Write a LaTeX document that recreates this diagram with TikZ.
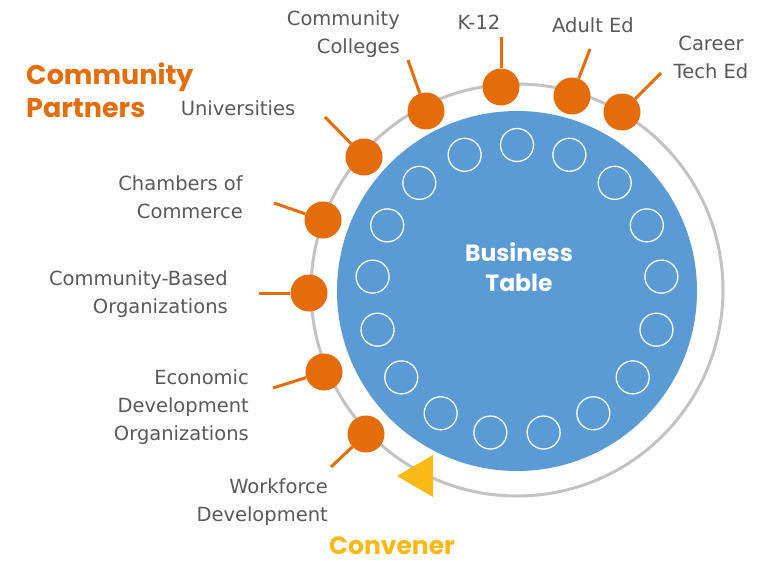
\documentclass[tikz,border=0pt]{standalone}
\usepackage{fontspec}
\setmainfont{DejaVu Sans}
\newfontfamily\headfont{Poppins}
\usepackage{tikz}

\definecolor{tableblue}{HTML}{5B9BD5}
\definecolor{partnerorange}{HTML}{E46C0A}
\definecolor{convenergold}{HTML}{FBB917}
\definecolor{ringgray}{HTML}{C3C3C3}
\definecolor{labelgray}{HTML}{595959}

\begin{document}
\begin{tikzpicture}[x=1pt, y=-1pt,
    partner/.style={circle, fill=partnerorange, inner sep=0pt, minimum size=37pt},
    seat/.style={circle, draw=white, line width=1.3pt, inner sep=0pt, minimum size=33pt},
    spoke/.style={partnerorange, line width=3pt},
    lbl/.style={text=labelgray, font=\fontsize{19.5}{28}\selectfont, inner sep=0pt},
    head/.style={font=\headfont\bfseries\fontsize{27}{33}\selectfont, inner sep=0pt}]
    \useasboundingbox (0,0) rectangle (779,562);

    % The ring round the table
    \draw[ringgray, line width=3pt] (517,290) circle (206);

    % The Business Table and its seats
    \node (table) at (517,291) [circle, fill=tableblue, minimum size=360pt, inner sep=0pt] {};
    \node (tabletext) at (519,267) [text=white, align=center, inner sep=0pt,
        font=\headfont\bfseries\fontsize{23.5}{30}\selectfont] {Business\\Table};
    \foreach \k in {0,...,16}
        \node (seat\k) at ({517+145*cos(90+\k*360/17)}, {290-145*sin(90+\k*360/17)}) [seat] {};

    % Community partners on the ring
    \node (k12) at (501,87) [partner] {};
    \node (adult) at (572,96) [partner] {};
    \node (career) at (622,112) [partner] {};
    \node (cc) at (426,111) [partner] {};
    \node (uni) at (364,157) [partner] {};
    \node (chamber) at (323,220) [partner] {};
    \node (cbo) at (309,293) [partner] {};
    \node (edo) at (324,372) [partner] {};
    \node (wd) at (366,434) [partner] {};

    \coordinate (k12end) at (501,37);
    \coordinate (adultend) at (590,49);
    \coordinate (careerend) at (661,73);
    \coordinate (ccend) at (408,60);
    \coordinate (uniend) at (325,117);
    \coordinate (chamberend) at (274,203);
    \coordinate (cboend) at (259,293);
    \coordinate (edoend) at (273,388);
    \coordinate (wdend) at (331,467);

    \draw[spoke] (k12) -- (k12end);
    \draw[spoke] (adult) -- (adultend);
    \draw[spoke] (career) -- (careerend);
    \draw[spoke] (cc) -- (ccend);
    \draw[spoke] (uni) -- (uniend);
    \draw[spoke] (chamber) -- (chamberend);
    \draw[spoke] (cbo) -- (cboend);
    \draw[spoke] (edo) -- (edoend);
    \draw[spoke] (wd) -- (wdend);

    % Labels
    \node (k12lbl) at (479,22) [lbl] {K-12};
    \node (adultlbl) at (593,25) [lbl] {Adult Ed};
    \node (careerlbl) at (711,57) [lbl, align=center] {Career\\Tech Ed};
    \node (cclbl) at (400,34) [lbl, anchor=east, align=right] {Community\\Colleges};
    \node (unilbl) at (238,108) [lbl] {Universities};
    \node (chamberlbl) at (243,197) [lbl, anchor=east, align=right] {Chambers of\\Commerce};
    \node (cbolbl) at (228,294) [lbl, anchor=east, align=right] {Community-Based\\Organizations};
    \node (edolbl) at (249,407) [lbl, anchor=east, align=right] {Economic\\Development\\Organizations};
    \node (wdlbl) at (328,502) [lbl, anchor=east, align=right] {Workforce\\Development};

    % The convener
    \fill[convenergold] (397,476) -- (433,455) -- (433,497) -- cycle;
    \node (convener) at (392,554) [anchor=base, text=convenergold, inner sep=0pt,
        text depth=0pt, font=\headfont\bfseries\fontsize{25}{30}\selectfont] {Convener};
    \node (partners) at (26,90) [head, anchor=west, align=left, text=partnerorange] {Community\\Partners};
\end{tikzpicture}
\end{document}
